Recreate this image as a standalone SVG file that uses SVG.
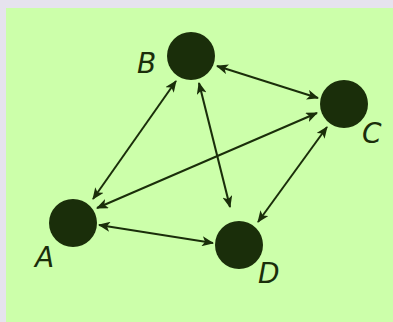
<svg xmlns="http://www.w3.org/2000/svg" width="393" height="322" viewBox="0 0 393 322">
<style>
.node{fill:#1a2e0a}
.lbl{font-family:"DejaVu Sans",sans-serif;font-style:oblique;font-size:28px;fill:#1a2e0a}
.edge{stroke:#1a2e0a;stroke-width:2;fill:none;marker-start:url(#ah);marker-end:url(#ah)}
</style>
<defs>
<marker id="ah" viewBox="0 0 12 10" refX="11" refY="5" markerWidth="12" markerHeight="10" markerUnits="userSpaceOnUse" orient="auto-start-reverse">
<path d="M0,0 L12,5 L0,10 L3,5 z" fill="#1a2e0a"/>
</marker>
</defs>
<rect x="0" y="0" width="393" height="322" fill="#e6e3ee"/>
<rect x="6" y="8" width="387" height="314" fill="#ccffaa"/>
<g id="connectors">
<line class="edge" x1="93" y1="199" x2="176" y2="81"/>
<line class="edge" x1="217" y1="66" x2="318" y2="98"/>
<line class="edge" x1="199" y1="83" x2="230" y2="207"/>
<line class="edge" x1="97" y1="208" x2="317" y2="113"/>
<line class="edge" x1="327" y1="127" x2="258" y2="222"/>
<line class="edge" x1="99" y1="225" x2="213" y2="243"/>
</g>
<g id="A"><circle class="node" cx="73" cy="223" r="24"/><text class="lbl" x="35" y="267">A</text></g>
<g id="B"><circle class="node" cx="191" cy="56" r="24"/><text class="lbl" x="137" y="73">B</text></g>
<g id="C"><circle class="node" cx="344" cy="104" r="24"/><text class="lbl" x="362" y="143">C</text></g>
<g id="D"><circle class="node" cx="239" cy="245" r="24"/><text class="lbl" x="258" y="283">D</text></g>
</svg>
